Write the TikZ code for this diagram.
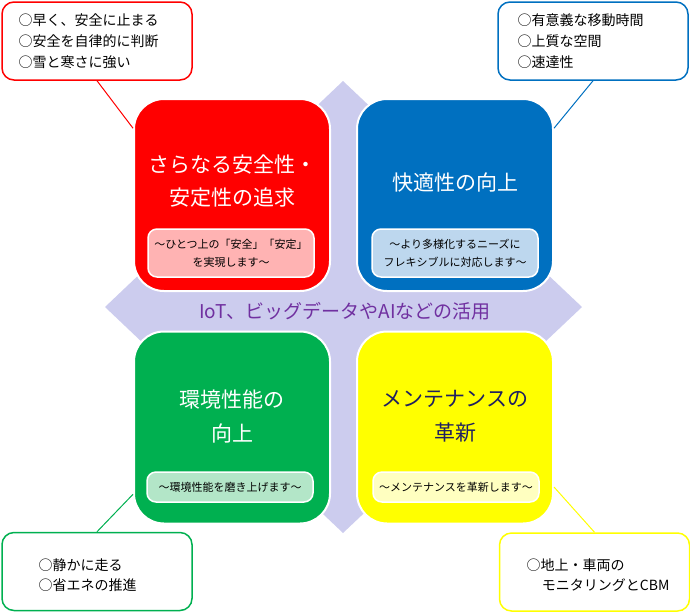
\documentclass[tikz,border=0pt]{standalone}
\usepackage{fontspec}
\setmainfont{Noto Sans CJK JP}
\definecolor{crossbg}{RGB}{204,204,238}
\definecolor{boxred}{RGB}{255,0,0}
\definecolor{boxblue}{RGB}{0,112,192}
\definecolor{boxgreen}{RGB}{0,176,80}
\definecolor{boxyellow}{RGB}{255,255,0}
\definecolor{subred}{RGB}{255,179,179}
\definecolor{subblue}{RGB}{189,215,238}
\definecolor{subgreen}{RGB}{179,230,200}
\definecolor{subyellow}{RGB}{255,255,192}
\definecolor{textnavy}{RGB}{31,32,96}
\definecolor{textpurple}{RGB}{112,48,160}
\begin{document}
\begin{tikzpicture}[x=1pt,y=-1pt,
  bigbox/.style={draw=white,line width=2pt,rounded corners=30pt,minimum width=196pt,minimum height=192pt,inner sep=0pt},
  subbox/.style={draw=white,line width=1.5pt,rounded corners=9pt,minimum width=166pt,inner sep=0pt,align=center,font=\fontsize{11}{18}\selectfont},
  titletext/.style={align=center,font=\fontsize{21}{33}\selectfont},
  notebox/.style={fill=white,line width=1.5pt,rounded corners=12pt,minimum width=190pt,minimum height=78pt,inner sep=0pt},
  notetext/.style={anchor=west,align=left,font=\fontsize{14}{21}\selectfont}]
\useasboundingbox (0,0) rectangle (690,614);
% background cross
\fill [crossbg] (343,81) -- (105,307) -- (343,533) -- (582,307) -- cycle;
% four main boxes
\node [bigbox,fill=boxred](Red) at (232,195){};
\node [bigbox,fill=boxblue](Blue) at (455,195){};
\node [bigbox,fill=boxgreen](Green) at (232,427.5){};
\node [bigbox,fill=boxyellow](Yellow) at (455,427.5){};
\node [titletext,text=white](RedTitle) at (232,181){さらなる安全性・\\安定性の追求};
\node [titletext,text=white](BlueTitle) at (455,183){快適性の向上};
\node [titletext,text=white,font=\fontsize{21}{34}\selectfont](GreenTitle) at (232,416){環境性能の\\向上};
\node [titletext,text=textnavy,font=\fontsize{21}{34}\selectfont](YellowTitle) at (455,416){メンテナンスの\\革新};
\node [subbox,fill=subred,minimum height=48pt](RedSub) at (231,253){～ひとつ上の「安全」「安定」\\を実現します～};
\node [subbox,fill=subblue,minimum height=48pt](BlueSub) at (455,253){～より多様化するニーズに\\フレキシブルに対応します～};
\node [subbox,fill=subgreen,minimum height=30pt](GreenSub) at (230,487){～環境性能を磨き上げます～};
\node [subbox,fill=subyellow,minimum height=30pt](YellowSub) at (456,487){～メンテナンスを革新します～};
\node [text=textpurple,font=\fontsize{19}{19}\selectfont](Center) at (345,311){IoT、ビッグデータやAIなどの活用};
% callouts
\node [notebox,draw=boxred](TLnote) at (97,41){};
\node [notebox,draw=boxblue](TRnote) at (593,41){};
\node [notebox,draw=boxgreen](BLnote) at (97,571.5){};
\node [notebox,draw=boxyellow](BRnote) at (594.5,572){};
\node [notetext](TLtext) at (15,41){○早く、安全に止まる\\○安全を自律的に判断\\○雪と寒さに強い};
\node [notetext](TRtext) at (514,41){○有意義な移動時間\\○上質な空間\\○速達性};
\node [notetext,font=\fontsize{14}{20}\selectfont](BLtext) at (35,575){○静かに走る\\○省エネの推進};
\node [notetext,font=\fontsize{14}{20}\selectfont](BRtext) at (523,575){○地上・車両の\\\hspace*{1.1em}モニタリングとCBM};
\draw [boxred,line width=1pt](TLnote.south) -- (Red.146);
\draw [boxblue,line width=1pt](TRnote.south) -- (Blue.34);
\draw [boxgreen,line width=1pt](BLnote.north) -- (Green.214);
\draw [boxyellow,line width=1pt](BRnote.north) -- (Yellow.329);
\end{tikzpicture}
\end{document}
